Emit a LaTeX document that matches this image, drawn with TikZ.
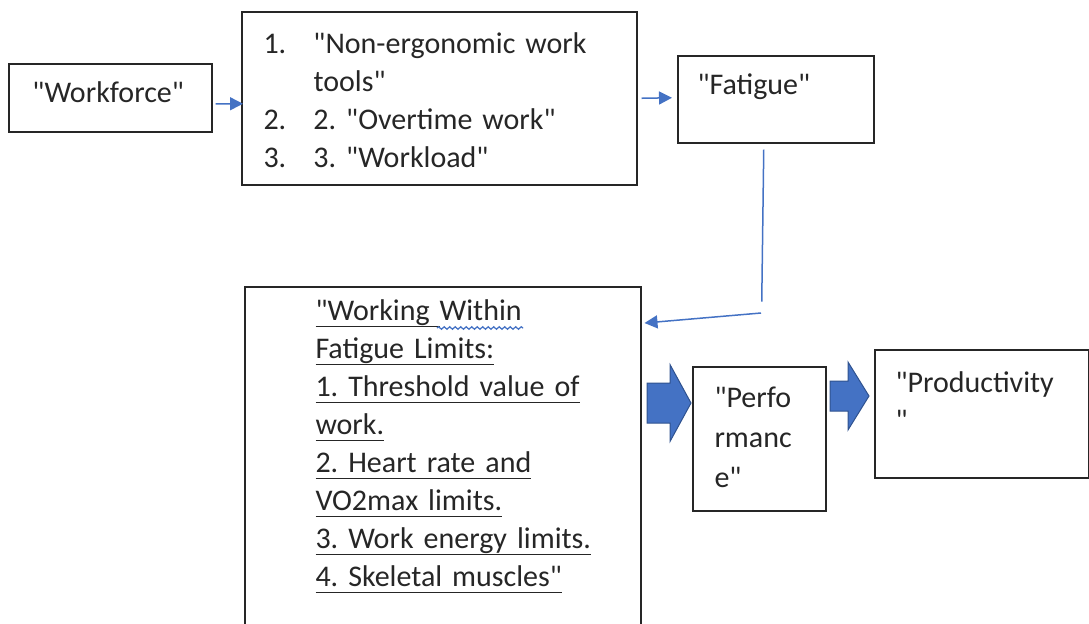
\documentclass[tikz,border=0pt]{standalone}
\usepackage{fontspec}
\setmainfont{Carlito}[Ligatures=TeXOff]
\usetikzlibrary{arrows.meta,calc,decorations.pathmorphing}
\frenchspacing

\definecolor{linkblue}{HTML}{4472C4}
\definecolor{linkdark}{HTML}{2F528F}
\definecolor{boxgray}{HTML}{262626}

% underline at a fixed depth, as in the source
\newsavebox\undlbox
\newcommand\undl[1]{\leavevmode\sbox\undlbox{#1}\rlap{\rule[-2.8pt]{\wd\undlbox}{0.6pt}}\usebox\undlbox}

\tikzset{
  box/.style={draw=boxgray, line width=0.6pt, inner sep=0pt, anchor=north west},
  txt/.style={anchor=base west, inner sep=0pt, align=left, text=boxgray,
    font=\fontsize{12}{15.2}\selectfont},
  thinarrow/.style={draw=linkblue, line width=0.6pt, -{Triangle[length=5.2pt,width=5.2pt]}},
  blockarrow/.style={fill=linkblue, draw=linkdark, line width=0.4pt, line join=miter}
}

\begin{document}
\begin{tikzpicture}[x=0.4pt, y=-0.4pt]
    \useasboundingbox (0,0) rectangle (1089,623);
    \clip (0,0) rectangle (1089,623);

    % Рамки
    \node[box, minimum width=81.2pt, minimum height=27.2pt] (work) at (8,63) {};
    \node[box, minimum width=158pt, minimum height=69.2pt] (causes) at (241,11) {};
    \node[box, minimum width=78.4pt, minimum height=34.8pt] (fatigue) at (677,55) {};
    \node[box, minimum width=158.4pt, minimum height=144pt] (limits) at (244,286) {};
    \node[box, minimum width=53.2pt, minimum height=57.6pt] (perf) at (692,366) {};
    \node[box, minimum width=85.6pt, minimum height=51.2pt] (prod) at (874,349) {};

    % Тексты
    \node[txt] (workT) at (32,102) {"Workforce"};
    \node[txt, text width=150pt] (causesT) at (263,53) {%
      \makebox[20pt][l]{1.}"Non-ergonomic work\\
      \hspace*{20pt}tools"\\
      \makebox[20pt][l]{2.}2. "Overtime work"\\
      \makebox[20pt][l]{3.}3. "Workload"};
    \node[txt] (fatigueT) at (697,94) {"Fatigue"};
    \node[txt, text width=130pt] (limitsT) at (315,320) {%
      \undl{"Working }Within\\
      \undl{Fatigue Limits:}\\
      \undl{1. Threshold value of}\\
      \undl{work.}\\
      \undl{2. Heart rate and}\\
      \undl{VO2max limits.}\\
      \undl{3. Work energy limits.}\\
      \undl{4. Skeletal muscles"}};
    \node[txt, text width=45pt, font=\fontsize{12}{16}\selectfont] (perfT) at (714,407) {%
      "Perfo\\rmanc\\e"};
    \node[txt, text width=75pt] (prodT) at (895,392) {"Productivity\\"};

    % Волнистая линия под словом
    \draw[linkblue, line width=0.5pt, decorate,
      decoration={snake, amplitude=0.5pt, segment length=2.2pt}] (437,328) -- (523,328);

    % Стрелки
    \draw[thinarrow] ($(work.east)+(3,6)$) -- ($(causes.west)+(2,5.5)$);
    \draw[thinarrow] ($(causes.east)+(4,0)$) -- ($(fatigue.west)+(-5,-1.5)$);
    \draw[linkblue, line width=0.6pt] ($(fatigue.south)+(-12,6)$) -- ($(fatigue.south)+(-14,158)$);
    \coordinate (bend) at (761,313);
    \draw[thinarrow] (bend) -- ($(limits.north east)+(3,37)$);

    % Толстые стрелки
    \draw[blockarrow] (647,383) -- (670,383) -- (670,364.5) -- (691,403)
      -- (670,441.5) -- (670,423) -- (647,423) -- cycle;
    \draw[blockarrow] (830,381) -- (848,381) -- (848,362) -- (869,396)
      -- (848,430) -- (848,411) -- (830,411) -- cycle;
\end{tikzpicture}
\end{document}
